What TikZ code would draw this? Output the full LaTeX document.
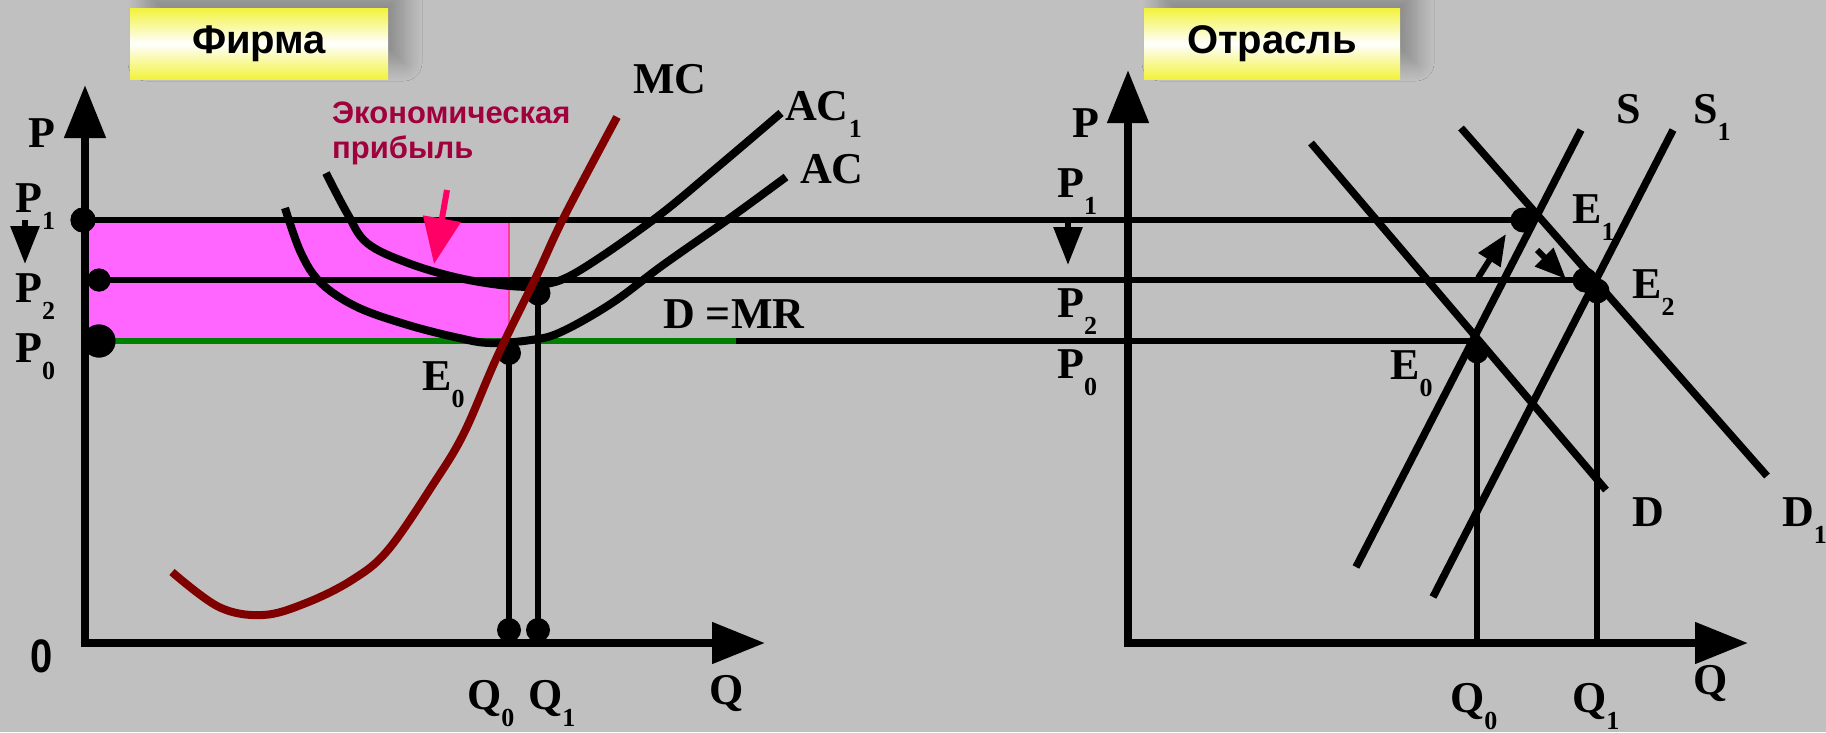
\documentclass[tikz,border=0pt]{standalone}
\usepackage{fontspec}
\setmainfont{Liberation Serif}
\newfontfamily\sansf{Liberation Sans}
\usetikzlibrary{arrows.meta,shadows.blur}
\definecolor{bg}{RGB}{192,192,192}
\definecolor{mcred}{RGB}{128,0,0}
\definecolor{profit}{RGB}{255,102,255}
\definecolor{profitedge}{RGB}{255,60,150}
\definecolor{pinkarrow}{RGB}{255,0,102}
\definecolor{labelred}{RGB}{160,0,60}
\definecolor{tyellow}{RGB}{242,242,60}
\definecolor{dgreen}{RGB}{0,128,0}
\newcommand\sbs[1]{\raisebox{-17pt}{\fontsize{26}{26}\selectfont#1}}
\begin{document}
\begin{tikzpicture}[x=1pt,y=-1pt,
  lbl/.style={font=\fontsize{44}{44}\selectfont\bfseries, inner sep=0pt, anchor=base west},
  titlebox/.style={rectangle, inner sep=0pt, top color=tyellow, bottom color=tyellow, middle color=white,
    minimum height=71pt, font=\sansf\bfseries\fontsize{40}{40}\selectfont,
    blur shadow={shadow xshift=16pt, shadow yshift=16pt, shadow blur radius=18pt, shadow blur steps=12, shadow opacity=28}},
  axisline/.style={line width=8pt, line join=miter, {Triangle[length=53pt,width=40pt]}-{Triangle[length=53pt,width=40pt]}},
  hline/.style={line width=6pt},
  vline/.style={line width=6pt},
  curve/.style={line width=8pt},
  dot/.style={circle, fill=black, inner sep=0pt, minimum size=25pt},
  smallarrow/.style={line width=6pt, -{Triangle[length=31pt,width=25pt]}},
  downarrow/.style={line width=6pt, -{Triangle[length=38pt,width=28pt]}}
]
\fill[bg] (0,0) rectangle (1826,732);
\useasboundingbox (0,0) rectangle (1826,732);

% title boxes
\node[titlebox, minimum width=258pt] (tfirm) at (259,43.5) {Фирма};
\node[titlebox, minimum width=256pt] (tind) at (1272,43.5) {Отрасль};

% ---------- coordinates ----------
\coordinate (O1) at (85,643);
\coordinate (Y1) at (85,85);
\coordinate (X1) at (765,643);
\coordinate (O2) at (1128,643);
\coordinate (Y2) at (1128,70);
\coordinate (X2) at (1748,643);

% profit rectangle
\fill[profit] (85,220) rectangle (509,341);
\draw[profitedge, line width=1.5pt] (509,221) -- (509,339);

% dots (named) firm
\node[dot] (dP1) at (83,220) {};
\node[dot, minimum size=23pt] (dP2) at (99,280) {};
\node[dot, minimum size=33pt] (dP0) at (99,341) {};
\node[dot, minimum size=24pt] (dE0) at (509,353) {};
\node[dot] (dE1f) at (538,293) {};
\node[dot, minimum size=24pt] (dQ0) at (509,630) {};
\node[dot, minimum size=24pt] (dQ1) at (538,630) {};
\coordinate (gEnd) at (736,341);
\coordinate (aQ0) at (509,643);
\coordinate (aQ1) at (538,643);
% industry
\node[dot] (iE1) at (1523,220) {};
\node[dot] (iE2a) at (1585,280) {};
\node[dot] (iE2) at (1597,291) {};
\node[dot, minimum size=23pt] (iE0) at (1477,352) {};
\coordinate (iQ0) at (1477,643);
\coordinate (iQ1) at (1597,643);

% horizontal price lines
\draw[hline] (85,220) -- (iE1.center);
\draw[hline] (dP2.center) -- (iE2a.center);
\draw[hline] (dP0.center) -- (1474,341);
\draw[hline, dgreen] (dP0.center) -- (gEnd);

% redraw dots over lines
\node[dot] at (dP1) {};
\node[dot, minimum size=23pt] at (dP2) {};
\node[dot, minimum size=33pt] at (dP0) {};

% firm curves
\draw[curve] plot[smooth, tension=0.6] coordinates {(326,173) (347,213) (367,243) (408,263) (459,278) (510,286) (541,285) (577,272) (653,220) (714,170) (781,113)};
\draw[curve] plot[smooth, tension=0.6] coordinates {(285,208) (301,253) (321,283) (357,307) (408,325) (459,338) (490,343) (531,340) (561,332) (612,303) (663,265) (730,218) (786,177)};
\draw[curve, mcred] plot[smooth, tension=0.6] coordinates {(172,572) (219,607) (263,615) (306,603) (352,580) (388,550) (434,483) (464,433) (497,357) (536,277) (564,217) (617,117)};

% firm verticals
\draw[vline] (dE0.center) -- (aQ0);
\draw[vline] (dE1f.center) -- (aQ1);

% industry curves
\coordinate (Dtop) at (1311,143); \coordinate (Dbot) at (1606,490);
\coordinate (D1top) at (1461,128); \coordinate (D1bot) at (1767,476);
\coordinate (Stop) at (1581,130); \coordinate (Sbot) at (1356,567);
\coordinate (S1top) at (1673,130); \coordinate (S1bot) at (1433,597);
\draw[curve, line width=7.5pt] (Dtop) -- (Dbot);
\draw[curve, line width=7.5pt] (D1top) -- (D1bot);
\draw[curve, line width=7.5pt] (Stop) -- (Sbot);
\draw[curve, line width=7.5pt] (S1top) -- (S1bot);
\draw[vline] (iE0.center) -- (iQ0);
\draw[vline] (iE2.center) -- (iQ1);

% axes
\draw[axisline] (Y1) -- (O1) -- (X1);
\draw[axisline] (Y2) -- (O2) -- (X2);

% arrows
\coordinate (fa1) at (25,220); \coordinate (fa2) at (25,264);
\draw[downarrow] (fa1) -- (fa2);
\coordinate (ia1) at (1068,220); \coordinate (ia2) at (1068,265);
\draw[downarrow] (ia1) -- (ia2);
\coordinate (pa1) at (447,190); \coordinate (pa2) at (434,264);
\draw[pinkarrow, line width=6pt, -{Triangle[length=46pt,width=37pt]}] (pa1) -- (pa2);
\coordinate (sa1) at (1478,278); \coordinate (sa2) at (1506,234);
\draw[smallarrow] (sa1) -- (sa2);
\coordinate (sb1) at (1537,250); \coordinate (sb2) at (1566,279);
\draw[smallarrow] (sb1) -- (sb2);

% firm labels
\node[lbl] (lP) at (28,147) {P};
\node[lbl] (lP1) at (15,212) {P\sbs{1}};
\node[lbl] (lP2) at (15,302) {P\sbs{2}};
\node[lbl] (lP0) at (15,362) {P\sbs{0}};
\node[lbl, font=\sansf\bfseries\fontsize{47}{47}\selectfont] (l0) at (30,672) {\scalebox{0.85}[1]{0}};
\node[lbl] (lE0) at (422,390) {E\sbs{0}};
\node[lbl] (lQ0) at (467,709) {Q\sbs{0}};
\node[lbl] (lQ1) at (528,709) {Q\sbs{1}};
\node[lbl] (lQ) at (709,704) {Q};
\node[lbl] (lMC) at (633,93) {MC};
\node[lbl] (lAC1) at (785,120) {AC\sbs{1}};
\node[lbl] (lAC) at (800,183) {AC};
\node[lbl] (lDMR) at (663,328) {D =MR};
\node[lbl, text=labelred, font=\sansf\bfseries\fontsize{31}{31}\selectfont] (lpr1) at (332,123) {Экономическая};
\node[lbl, text=labelred, font=\sansf\bfseries\fontsize{31}{31}\selectfont] (lpr2) at (332,158) {прибыль};

% industry labels
\node[lbl] (rP) at (1072,137) {P};
\node[lbl] (rP1) at (1057,197) {P\sbs{1}};
\node[lbl] (rP2) at (1057,317) {P\sbs{2}};
\node[lbl] (rP0) at (1057,378) {P\sbs{0}};
\node[lbl] (rS) at (1616,123) {S};
\node[lbl] (rS1) at (1693,123) {S\sbs{1}};
\node[lbl] (rE1) at (1572,223) {E\sbs{1}};
\node[lbl] (rE2) at (1632,298) {E\sbs{2}};
\node[lbl] (rE0) at (1390,379) {E\sbs{0}};
\node[lbl] (rD) at (1632,526) {D};
\node[lbl] (rD1) at (1782,526) {D\sbs{1}};
\node[lbl] (rQ) at (1693,694) {Q};
\node[lbl] (rQ0) at (1450,712) {Q\sbs{0}};
\node[lbl] (rQ1) at (1572,712) {Q\sbs{1}};
\end{tikzpicture}
\end{document}
